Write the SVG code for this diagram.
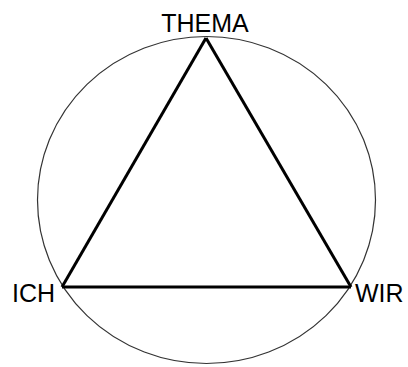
<svg xmlns="http://www.w3.org/2000/svg" width="408" height="367" viewBox="0 0 408 367">
<style>
.lbl{font-family:"Liberation Sans",Arial,sans-serif;font-size:25px;fill:#000}
.circ{fill:none;stroke:#333;stroke-width:1.2}
.edge{fill:none;stroke:#000;stroke-width:3;stroke-linejoin:miter}
</style>
<rect width="408" height="367" fill="#fff"/>
<g id="circle"><ellipse class="circ" cx="206.5" cy="200" rx="169" ry="163.5"/></g>
<g id="connectors">
<line class="edge" x1="206" y1="38" x2="62" y2="287"/>
<line class="edge" x1="206" y1="38" x2="351" y2="287"/>
<line class="edge" x1="62" y1="287" x2="351" y2="287"/>
</g>
<g id="thema"><text class="lbl" x="205" y="32" text-anchor="middle">THEMA</text></g>
<g id="ich"><text class="lbl" x="12" y="302">ICH</text></g>
<g id="wir"><text class="lbl" x="355" y="302">WIR</text></g>
</svg>
